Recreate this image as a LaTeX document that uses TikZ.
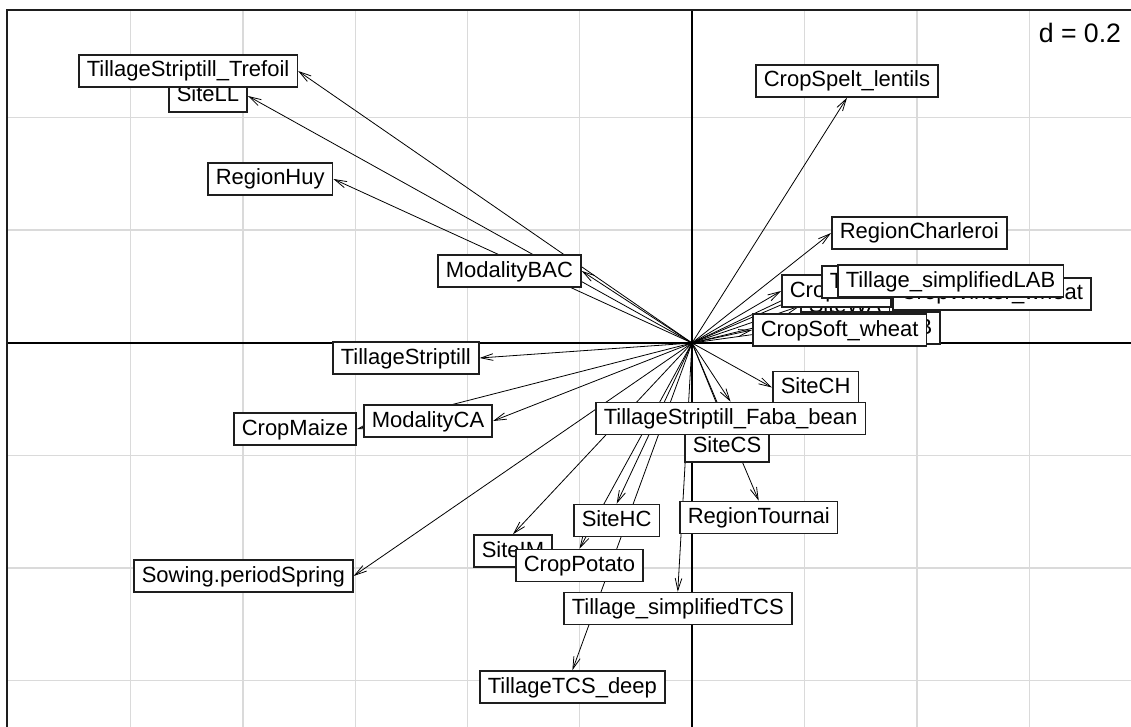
\documentclass[tikz,border=0pt]{standalone}
\usepackage{fontspec}
\setmainfont{Liberation Sans}
\usetikzlibrary{arrows.meta}
\definecolor{gridgray}{RGB}{218,218,218}
\definecolor{boxline}{RGB}{30,30,30}
\pgfdeclarelayer{back}
\pgfdeclarelayer{mid}
\pgfsetlayers{back,mid,main}
\tikzstyle{label box}=[
        draw = boxline,
        line width = 1.2pt,
        fill = white,
        anchor = west,
        inner xsep = 6pt,
        inner ysep = 4pt,
        text height = 12.5pt,
        text depth = 3.5pt,
        font = \fontsize{16.5}{18}\selectfont
    ]
\tikzstyle{load arrow}=[
        line width = 0.6pt,
        -{Straight Barb[length=9pt,width=5pt]}
    ]

\begin{document}
\begin{tikzpicture}[x=0.75pt, y=-0.75pt]
        \useasboundingbox (0,0) rectangle (1131,727);
        \coordinate (O) at (692,343);

        \node[label box] (sitell) at (168,96) {SiteLL};
        \node[label box] (trefoil) at (78,71) {TillageStriptill\_Trefoil};
        \node[label box] (huy) at (207,179) {RegionHuy};
        \node[label box] (bac) at (437,271) {ModalityBAC};
        \node[label box] (spelt) at (755,81) {CropSpelt\_lentils};
        \node[label box] (charleroi) at (831,233) {RegionCharleroi};
        \node[label box] (sitewa) at (800,306) {SiteWA};
        \node[label box] (beet) at (781,291) {CropBeet};
        \node[label box, anchor=east] (lab) at (941,328) {ModalityLAB};
        \node[label box] (labour) at (821,282) {TillageLabour};
        \node[label box] (winter) at (892,294) {CropWinter\_wheat};
        \node[label box] (simplab) at (837,281) {Tillage\_simplifiedLAB};
        \node[label box] (soft) at (752,330) {CropSoft\_wheat};
        \node[label box] (striptill) at (332,358) {TillageStriptill};
        \node[label box] (ca) at (363,421) {ModalityCA};
        \node[label box] (maize) at (233,429) {CropMaize};
        \node[label box] (sowing) at (133,576) {Sowing.periodSpring};
        \node[label box] (sitech) at (772,387.5) {SiteCH};
        \node[label box] (sitecs) at (684,446) {SiteCS};
        \node[label box] (faba) at (595,418.5) {TillageStriptill\_Faba\_bean};
        \node[label box] (sitehc) at (573,520.5) {SiteHC};
        \node[label box] (tournai) at (679,517.5) {RegionTournai};
        \node[label box] (siteim) at (473,551) {SiteIM};
        \node[label box] (potato) at (515,565.5) {CropPotato};
        \node[label box] (simptcs) at (563,608.5) {Tillage\_simplifiedTCS};
        \node[label box] (tcsdeep) at (479,687) {TillageTCS\_deep};
        \node[anchor=base east, fill=white, inner sep=2pt, font=\fontsize{20}{22}\selectfont] (dscale) at (1124,43) {d = 0.2};

        \begin{pgfonlayer}{back}
        \foreach \x in {130.5,243,355.5,467.5,579.5,804.5,917,1029.5}
            \draw[gridgray, line width=1.4pt] (\x,10) -- (\x,727);
        \foreach \y in {117.5,230,455.5,568,680.5}
            \draw[gridgray, line width=1.4pt] (7,\y) -- (1131,\y);
        \draw[line width=1pt] (7,343) -- (1131,343);
        \draw[line width=1pt] (692,10) -- (692,727);
        \draw[boxline, line width=1.4pt] (7,727) -- (7,10) -- (1131,10);
        \end{pgfonlayer}

        \begin{pgfonlayer}{mid}
        \draw[load arrow] (O) -- (trefoil.east);
        \draw[load arrow] (O) -- (sitell.east);
        \draw[load arrow] (O) -- (huy.east);
        \draw[load arrow] (O) -- (bac.east);
        \draw[load arrow] (O) -- (spelt.south);
        \draw[load arrow] (O) -- (charleroi.west);
        \draw[load arrow] (O) -- (sitewa.west);
        \draw[load arrow] (O) -- (beet.west);
        \draw[load arrow] (O) -- (lab.west);
        \draw[load arrow] (O) -- (labour.west);
        \draw[load arrow] (O) -- (winter.west);
        \draw[load arrow] (O) -- (simplab.west);
        \draw[load arrow] (O) -- (soft.west);
        \draw[load arrow] (O) -- (striptill.east);
        \draw[load arrow] (O) -- (ca.east);
        \draw[load arrow] (O) -- (maize.east);
        \draw[load arrow] (O) -- (sowing.east);
        \draw[load arrow] (O) -- (sitech.west);
        \draw[load arrow] (O) -- (sitecs.north);
        \draw[load arrow] (O) -- (faba.north);
        \draw[load arrow] (O) -- (sitehc.north);
        \draw[load arrow] (O) -- (tournai.north);
        \draw[load arrow] (O) -- (siteim.north);
        \draw[load arrow] (O) -- (potato.north);
        \draw[load arrow] (O) -- (simptcs.north);
        \draw[load arrow] (O) -- (tcsdeep.north);
        \end{pgfonlayer}
    \end{tikzpicture}
\end{document}
